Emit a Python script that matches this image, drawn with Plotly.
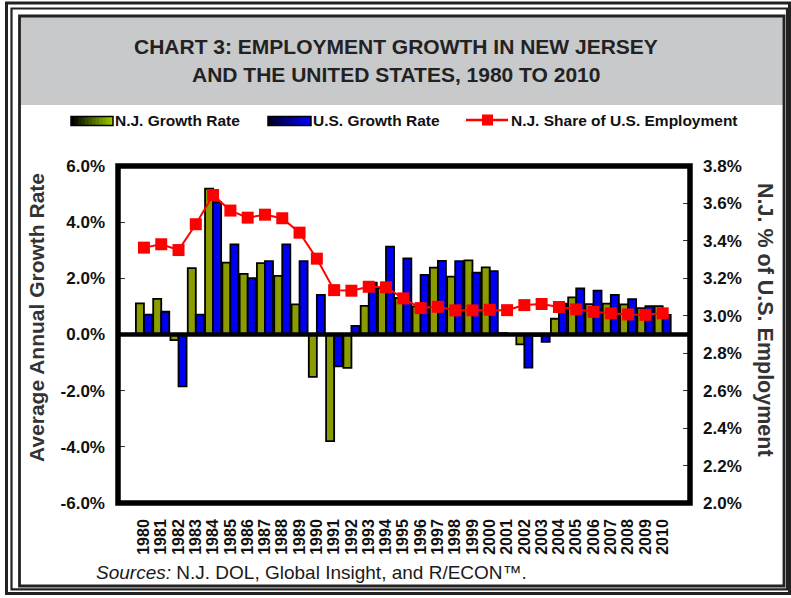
import plotly.graph_objects as go

# ---------------- data ----------------
years = list(range(1980, 2011))
year_labels = [str(y) for y in years]
nj_growth = [1.11, 1.27, -0.20, 2.36, 5.19, 2.56, 2.16, 2.54, 2.09, 1.07,
             -1.51, -3.80, -1.19, 1.02, 1.66, 1.30, 1.00, 2.38, 2.06, 2.64,
             2.39, 0.05, -0.35, -0.05, 0.56, 1.32, 1.08, 1.10, 1.07, 0.94, 1.01]
us_growth = [0.71, 0.81, -1.85, 0.71, 4.71, 3.21, 2.01, 2.61, 3.21, 2.61,
             1.41, -1.13, 0.31, 1.85, 3.13, 2.71, 2.12, 2.62, 2.61, 2.20,
             2.26, 0.02, -1.18, -0.26, 1.10, 1.64, 1.56, 1.41, 1.26, 1.01, 0.70]
nj_share = [3.364, 3.382, 3.351, 3.489, 3.645, 3.562, 3.524, 3.540, 3.521, 3.444,
            3.305, 3.137, 3.134, 3.155, 3.152, 3.093, 3.041, 3.048, 3.029, 3.029,
            3.032, 3.030, 3.057, 3.063, 3.047, 3.034, 3.021, 3.013, 3.007, 3.005, 3.013]
left_ticks = [-6, -4, -2, 0, 2, 4, 6]
left_tick_text = ["-6.0%", "-4.0%", "-2.0%", "0.0%", "2.0%", "4.0%", "6.0%"]
right_ticks = [2.0, 2.2, 2.4, 2.6, 2.8, 3.0, 3.2, 3.4, 3.6, 3.8]
right_tick_text = ["2.0%", "2.2%", "2.4%", "2.6%", "2.8%", "3.0%", "3.2%", "3.4%", "3.6%", "3.8%"]

FONT = "Liberation Sans, Arial, sans-serif"
NJ_COLOR = "#8A9C00"
US_COLOR = "#0000F0"
RED = "#FF0000"

# plot area geometry (pixels)
L, T, W, H = 118, 166, 572, 337
FIG_W, FIG_H = 791, 598


def px(x):
    return (x - L) / W


def py(y):
    return (T + H - y) / H


fig = go.Figure()
fig.add_trace(go.Bar(x=years, y=nj_growth, name="N.J. Growth Rate",
                     marker=dict(color=NJ_COLOR, line=dict(color="black", width=1.8))))
fig.add_trace(go.Bar(x=years, y=us_growth, name="U.S. Growth Rate",
                     marker=dict(color=US_COLOR, line=dict(color="black", width=1.8))))
fig.add_trace(go.Scatter(x=years, y=nj_share, name="N.J. Share of U.S. Employment",
                         yaxis="y2", mode="lines+markers",
                         line=dict(color=RED, width=2),
                         marker=dict(symbol="square", size=12, color=RED)))

shapes = []
# outer borders
shapes.append(dict(type="rect", xref="paper", yref="paper", x0=px(6.5), x1=px(789.5),
                   y0=py(3), y1=py(593.5), line=dict(color="#222", width=3), layer="above"))
shapes.append(dict(type="rect", xref="paper", yref="paper", x0=px(11.5), x1=px(787),
                   y0=py(8.5), y1=py(589.3), line=dict(color="#222", width=2.2), layer="above"))
# gray title band
shapes.append(dict(type="rect", xref="paper", yref="paper", x0=px(20), x1=px(784),
                   y0=py(16), y1=py(105), fillcolor="#C8C9CB", line=dict(width=0), layer="below"))
shapes.append(dict(type="rect", xref="paper", yref="paper", x0=px(19.5), x1=px(784),
                   y0=py(16), y1=py(586), line=dict(color="#222", width=2.8), layer="above"))
# plot frame
shapes.append(dict(type="rect", xref="paper", yref="paper", x0=0, x1=1, y0=0, y1=1,
                   line=dict(color="black", width=5.5), layer="above"))
# zero line
shapes.append(dict(type="line", xref="paper", yref="y", x0=0, x1=1, y0=0, y1=0,
                   line=dict(color="black", width=4.5), layer="above"))


def gradient_swatch(x0, x1, y0, y1, c0, c1, n=12):
    out = []
    for i in range(n):
        t = i / (n - 1)
        r = int(c0[0] + (c1[0] - c0[0]) * t)
        g = int(c0[1] + (c1[1] - c0[1]) * t)
        b = int(c0[2] + (c1[2] - c0[2]) * t)
        a = x0 + (x1 - x0) * i / n
        bb = min(x1, x0 + (x1 - x0) * (i + 1) / n + 1.0)
        out.append(dict(type="rect", xref="paper", yref="paper", x0=px(a), x1=px(bb),
                        y0=py(y0), y1=py(y1), fillcolor=f"rgb({r},{g},{b})",
                        line=dict(width=0), layer="above"))
    out.append(dict(type="rect", xref="paper", yref="paper", x0=px(x0), x1=px(x1),
                    y0=py(y0), y1=py(y1), line=dict(color="black", width=1.5), layer="above"))
    return out


shapes += gradient_swatch(71, 113, 116.5, 125.5, (0, 0, 0), (150, 200, 0))
shapes += gradient_swatch(268, 311, 116.5, 125.5, (0, 0, 40), (0, 0, 255))
shapes.append(dict(type="line", xref="paper", yref="paper", x0=px(466), x1=px(508),
                   y0=py(120), y1=py(120), line=dict(color=RED, width=2.5), layer="above"))
shapes.append(dict(type="rect", xref="paper", yref="paper", x0=px(482), x1=px(493),
                   y0=py(114.5), y1=py(125.5), fillcolor=RED, line=dict(width=0), layer="above"))

annotations = [
    dict(text="<b>CHART 3: EMPLOYMENT GROWTH IN NEW JERSEY</b>", x=px(396), y=py(47),
         xref="paper", yref="paper", showarrow=False, xanchor="center", yanchor="middle",
         font=dict(family=FONT, size=21, color="#222")),
    dict(text="<b>AND THE UNITED STATES, 1980 TO 2010</b>", x=px(396), y=py(75),
         xref="paper", yref="paper", showarrow=False, xanchor="center", yanchor="middle",
         font=dict(family=FONT, size=21, color="#222")),
    dict(text="<b>N.J. Growth Rate</b>", x=px(113), y=py(121), xref="paper", yref="paper",
         showarrow=False, xanchor="left", yanchor="middle",
         font=dict(family=FONT, size=15.5, color="#111")),
    dict(text="<b>U.S. Growth Rate</b>", x=px(311), y=py(121), xref="paper", yref="paper",
         showarrow=False, xanchor="left", yanchor="middle",
         font=dict(family=FONT, size=15.5, color="#111")),
    dict(text="<b>N.J. Share of U.S. Employment</b>", x=px(509), y=py(121), xref="paper", yref="paper",
         showarrow=False, xanchor="left", yanchor="middle",
         font=dict(family=FONT, size=15.5, color="#111")),
    dict(text="<b>Average Annual Growth Rate</b>", x=px(36), y=py(318), xref="paper", yref="paper",
         showarrow=False, xanchor="center", yanchor="middle", textangle=-90,
         font=dict(family=FONT, size=21, color="#333")),
    dict(text="<b>N.J. % of U.S. Employment</b>", x=px(765), y=py(320), xref="paper", yref="paper",
         showarrow=False, xanchor="center", yanchor="middle", textangle=90,
         font=dict(family=FONT, size=21.5, color="#333")),
    dict(text="<i>Sources:</i> N.J. DOL, Global Insight, and R/ECON\u2122.", x=px(94), y=py(572),
         xref="paper", yref="paper", showarrow=False, xanchor="left", yanchor="middle",
         font=dict(family=FONT, size=19, color="#1a1a1a")),
]

fig.update_layout(
    width=FIG_W, height=FIG_H,
    margin=dict(l=L, r=FIG_W - L - W, t=T, b=FIG_H - T - H, pad=0),
    paper_bgcolor="white", plot_bgcolor="white",
    barmode="group", bargap=0.07, bargroupgap=0,
    showlegend=False,
    font=dict(family=FONT),
    xaxis=dict(range=[1978.5, 2011.58], tickvals=years, ticktext=year_labels,
               tickangle=-90, ticks="", showgrid=False, zeroline=False, showline=False,
               tickfont=dict(family=FONT, size=16, color="#111", weight="bold"),
               ticklabelstandoff=12),
    yaxis=dict(range=[-6, 6], tickvals=left_ticks, ticktext=left_tick_text,
               ticks="inside", ticklen=7, tickwidth=1, tickcolor="#333",
               showgrid=False, zeroline=False, showline=False,
               tickfont=dict(family=FONT, size=17, color="#111", weight="bold"),
               ticklabelstandoff=12),
    yaxis2=dict(range=[2.0, 3.8], tickvals=right_ticks, ticktext=right_tick_text,
                overlaying="y", side="right",
                ticks="inside", ticklen=7, tickwidth=1, tickcolor="#333",
                showgrid=False, zeroline=False, showline=False,
                tickfont=dict(family=FONT, size=17, color="#111", weight="bold"),
                ticklabelstandoff=12),
    shapes=shapes,
    annotations=annotations,
)

fig.write_html("out.html", config={"displayModeBar": False},
               post_script="document.body.style.margin='0';document.body.style.overflow='hidden';")
